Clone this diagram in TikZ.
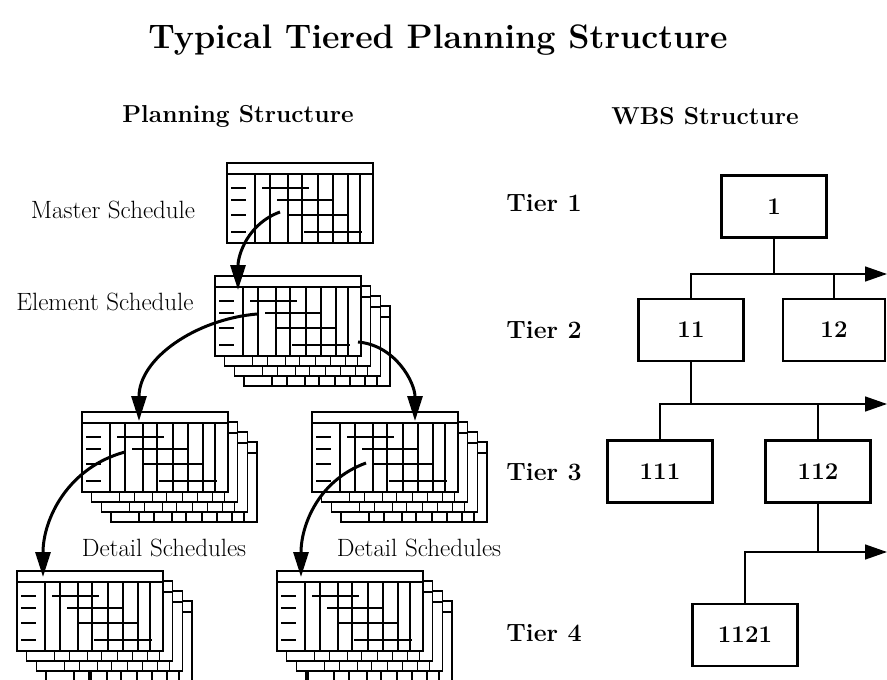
\documentclass[tikz,border=0pt]{standalone}
\usepackage{fontspec}
\usetikzlibrary{positioning,arrows.meta}

\tikzset{
  sheet/.pic={
    \draw[grid, fill=white] (0,0) rectangle (146,-80);
    \draw[grid] (0,-11) -- (146,-11);
    \foreach \c in {28,43,61,75,91,106,121,133}
      \draw[grid] (\c,-11) -- (\c,-80);
  },
  gantt/.pic={
    \pic {sheet};
    \foreach \y in {25,37,52,69}
      \draw[grid] (4,-\y) -- (19,-\y);
    \foreach \a/\b/\y in {35/82/25,50/105/37,61/120/52,77/135/69}
      \draw[bar] (\a,-\y) -- (\b,-\y);
  },
  stack/.pic={
    \foreach \k in {3,2,1}
      \pic at ({9.7*\k},{-10*\k}) {sheet};
    \pic {gantt};
  }
}

\begin{document}
\begin{tikzpicture}[
  x=1pt, y=1pt,
  grid/.style={line width=1.4pt},
  bar/.style={line width=2.8pt},
  title/.style={font=\fontsize{34}{40}\selectfont\bfseries},
  head/.style={font=\fontsize{24.5}{29}\selectfont\bfseries},
  tier/.style={font=\fontsize{25}{30}\selectfont\bfseries},
  lbl/.style={font=\fontsize{25}{30}\selectfont},
  wbs/.style={draw, line width=2.8pt, minimum width=105pt, minimum height=62pt,
    inner sep=0pt, font=\fontsize{24}{28}\selectfont\bfseries},
  flow/.style={line width=3pt, -{Triangle[length=25pt,width=15pt]}},
  link/.style={line width=1.5pt},
  feed/.style={link, -{Triangle[length=22pt,width=15pt]}}
]
\useasboundingbox (0,0) rectangle (887,-680);
\clip (0,0) rectangle (887,-680);

\node[title] (title) at (438,-40) {Typical Tiered Planning Structure};
\node[head] (plan) at (238,-116) {Planning Structure};
\node[head] (wbshead) at (705,-116) {WBS Structure};

\node[lbl] (master) at (113,-210) {Master Schedule};
\node[lbl] (element) at (105,-302) {Element Schedule};
\node[lbl] (detl) at (164,-548) {Detail Schedules};
\node[lbl] (detr) at (419,-548) {Detail Schedules};

\pic at (227,-163) {gantt};
\pic at (215,-276) {stack};
\pic at (82,-412) {stack};
\pic at (312,-412) {stack};
\pic at (17,-571) {stack};
\pic at (277,-571) {stack};

\coordinate (ms-out) at (280,-212);
\coordinate (es-in) at (238,-290);
\coordinate (es-left) at (257,-314);
\coordinate (es-right) at (358,-342);
\coordinate (dl-in) at (139,-421);
\coordinate (dr-in) at (415,-421);
\coordinate (dl-out) at (125,-452);
\coordinate (dr-out) at (366,-463);
\coordinate (bl-in) at (43,-577);
\coordinate (br-in) at (301,-577);
\coordinate (bl-out) at (90,-671);
\coordinate (bl-end) at (90,-682);
\coordinate (br-out) at (307,-671);
\coordinate (br-end) at (307,-682);

\draw[flow] (ms-out) to[out=200, in=90] (es-in);
\draw[flow] (es-left) to[out=185, in=90] (dl-in);
\draw[flow] (es-right) to[out=-5, in=90] (dr-in);
\draw[flow] (dl-out) to[out=195, in=90] (bl-in);
\draw[flow] (dr-out) to[out=200, in=90] (br-in);
\draw[line width=3pt] (bl-out) -- (bl-end);
\draw[line width=3pt] (br-out) -- (br-end);

\node[tier] (t1) at (544,-203) {Tier 1};
\node[tier] (t2) at (544,-330) {Tier 2};
\node[tier] (t3) at (544,-472) {Tier 3};
\node[tier] (t4) at (544,-633) {Tier 4};

\node[wbs] (n1) at (774,-206.5) {1};
\node[wbs] (n11) at (691,-330) {11};
\node[wbs, minimum width=102pt] (n12) at (834,-330) {12};
\node[wbs] (n111) at (660,-471.5) {111};
\node[wbs] (n112) at (818,-471.5) {112};
\node[wbs] (n1121) at (745,-635) {1121};

\coordinate (b1) at (887,-274);
\coordinate (b2) at (887,-404);
\coordinate (b3) at (887,-552);

\draw[link] (n1.south) -- (n1.south |- b1);
\draw[feed] (n11.north) |- (b1);
\draw[link] (n12.north) -- (n12.north |- b1);
\draw[link] (n11.south) -- (n11.south |- b2);
\draw[feed] (n111.north) |- (b2);
\draw[link] (n112.north) -- (n112.north |- b2);
\draw[link] (n112.south) -- (n112.south |- b3);
\draw[feed] (n1121.north) |- (b3);
\end{tikzpicture}
\end{document}
